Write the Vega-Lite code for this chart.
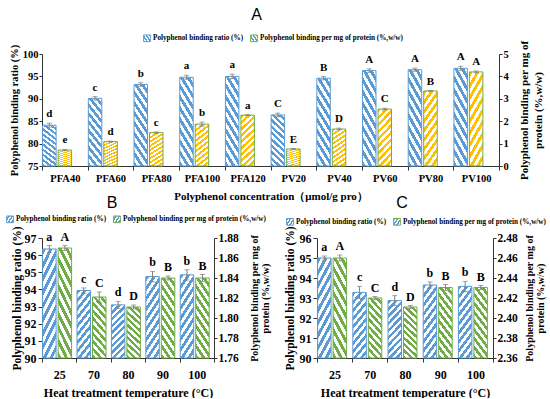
{
"$schema":"https://vega.github.io/schema/vega-lite/v6.json",
"background":"white",
"padding":{"left":6,"top":7,"right":0,"bottom":0},
"datasets":{
"A":[
{"cat":"PFA40","series":"ratio","value":84.1,"lo":83.65,"hi":84.55,"label":"d"},
{"cat":"PFA40","series":"permg","value":0.71,"lo":0.68,"hi":0.74,"label":"e"},
{"cat":"PFA60","series":"ratio","value":90.1,"lo":89.7,"hi":90.5,"label":"c"},
{"cat":"PFA60","series":"permg","value":1.09,"lo":1.07,"hi":1.11,"label":"d"},
{"cat":"PFA80","series":"ratio","value":93.2,"lo":92.8,"hi":93.6,"label":"b"},
{"cat":"PFA80","series":"permg","value":1.49,"lo":1.46,"hi":1.52,"label":"c"},
{"cat":"PFA100","series":"ratio","value":94.8,"lo":94.35,"hi":95.25,"label":"a"},
{"cat":"PFA100","series":"permg","value":1.87,"lo":1.78,"hi":1.96,"label":"b"},
{"cat":"PFA120","series":"ratio","value":95.0,"lo":94.5,"hi":95.5,"label":"a"},
{"cat":"PFA120","series":"permg","value":2.27,"lo":2.25,"hi":2.29,"label":"a"},
{"cat":"PV20","series":"ratio","value":86.4,"lo":86.0,"hi":86.8,"label":"C"},
{"cat":"PV20","series":"permg","value":0.76,"lo":0.74,"hi":0.78,"label":"E"},
{"cat":"PV40","series":"ratio","value":94.6,"lo":94.25,"hi":94.95,"label":"B"},
{"cat":"PV40","series":"permg","value":1.65,"lo":1.61,"hi":1.69,"label":"D"},
{"cat":"PV60","series":"ratio","value":96.3,"lo":95.9,"hi":96.7,"label":"A"},
{"cat":"PV60","series":"permg","value":2.54,"lo":2.5,"hi":2.58,"label":"C"},
{"cat":"PV80","series":"ratio","value":96.5,"lo":96.15,"hi":96.85,"label":"A"},
{"cat":"PV80","series":"permg","value":3.35,"lo":3.33,"hi":3.37,"label":"B"},
{"cat":"PV100","series":"ratio","value":96.8,"lo":96.35,"hi":97.25,"label":"A"},
{"cat":"PV100","series":"permg","value":4.2,"lo":4.16,"hi":4.24,"label":"A"}
],
"B":[
{"cat":"25","series":"ratio","value":96.36,"lo":96.16,"hi":96.56,"label":"a"},
{"cat":"25","series":"permg","value":1.870,"lo":1.8675,"hi":1.8725,"label":"A"},
{"cat":"70","series":"ratio","value":93.94,"lo":93.79,"hi":94.09,"label":"c"},
{"cat":"70","series":"permg","value":1.821,"lo":1.816,"hi":1.826,"label":"C"},
{"cat":"80","series":"ratio","value":93.1,"lo":92.9,"hi":93.3,"label":"d"},
{"cat":"80","series":"permg","value":1.811,"lo":1.809,"hi":1.813,"label":"D"},
{"cat":"90","series":"ratio","value":94.75,"lo":94.45,"hi":95.05,"label":"b"},
{"cat":"90","series":"permg","value":1.840,"lo":1.838,"hi":1.842,"label":"B"},
{"cat":"100","series":"ratio","value":94.85,"lo":94.55,"hi":95.15,"label":"b"},
{"cat":"100","series":"permg","value":1.840,"lo":1.8365,"hi":1.8435,"label":"B"}
],
"C":[
{"cat":"25","series":"ratio","value":95.0,"lo":94.9,"hi":95.1,"label":"a"},
{"cat":"25","series":"permg","value":2.46,"lo":2.457,"hi":2.463,"label":"A"},
{"cat":"70","series":"ratio","value":93.28,"lo":92.98,"hi":93.58,"label":"c"},
{"cat":"70","series":"permg","value":2.42,"lo":2.4185,"hi":2.4215,"label":"C"},
{"cat":"80","series":"ratio","value":92.87,"lo":92.62,"hi":93.12,"label":"d"},
{"cat":"80","series":"permg","value":2.411,"lo":2.4095,"hi":2.4125,"label":"D"},
{"cat":"90","series":"ratio","value":93.65,"lo":93.5,"hi":93.8,"label":"b"},
{"cat":"90","series":"permg","value":2.4305,"lo":2.4275,"hi":2.4335,"label":"B"},
{"cat":"100","series":"ratio","value":93.58,"lo":93.33,"hi":93.83,"label":"b"},
{"cat":"100","series":"permg","value":2.4305,"lo":2.4285,"hi":2.4325,"label":"B"}
]
},
"bounds":"flush",
"spacing":72,
"resolve":{"scale":{"stroke":"independent"},"legend":{"stroke":"independent"}},
"vconcat":[
{
"width":457,"height":112,
"data":{"name":"A"},
"title":{"text":"A","anchor":"middle","frame":"group","offset":11,"dx":-14},
"encoding":{
"x":{"field":"cat","type":"nominal","sort":null,"scale":{"paddingInner":0,"paddingOuter":0},"axis":{"title":"Polyphenol concentration（μmol/g pro）","labelAngle":0,"tickBand":"extent","labelFontSize":10.5,"titleFontSize":11,"labelPadding":3,"titlePadding":7}},
"xOffset":{"field":"series","type":"nominal","scale":{"domain":["ratio","permg","blank"],"paddingInner":0.13,"paddingOuter":0.04}}
},
"layer":[
{"transform":[{"filter":"datum.series==='ratio'"}],
"encoding":{"y":{"field":"value","type":"quantitative","scale":{"domain":[75,100],"nice":false,"zero":false},"axis":{"title":"Polyphenol binding ratio (%)","values":[75,80,85,90,95,100],"labelFontSize":10.5,"titleFontSize":10.5,"tickSize":3,"labelPadding":1,"titlePadding":3}}},
"layer":[
{"mark":{"type":"bar","strokeWidth":1,"fill":{"gradient":"linear","x1":0,"y1":1,"x2":0.294,"y2":-0.176,"stops":[{"offset":0,"color":"#5B9BD5"},{"offset":0.05,"color":"#5B9BD5"},{"offset":0.05,"color":"#ffffff"},{"offset":0.1,"color":"#ffffff"},{"offset":0.1,"color":"#5B9BD5"},{"offset":0.15,"color":"#5B9BD5"},{"offset":0.15,"color":"#ffffff"},{"offset":0.2,"color":"#ffffff"},{"offset":0.2,"color":"#5B9BD5"},{"offset":0.25,"color":"#5B9BD5"},{"offset":0.25,"color":"#ffffff"},{"offset":0.3,"color":"#ffffff"},{"offset":0.3,"color":"#5B9BD5"},{"offset":0.35,"color":"#5B9BD5"},{"offset":0.35,"color":"#ffffff"},{"offset":0.4,"color":"#ffffff"},{"offset":0.4,"color":"#5B9BD5"},{"offset":0.45,"color":"#5B9BD5"},{"offset":0.45,"color":"#ffffff"},{"offset":0.5,"color":"#ffffff"},{"offset":0.5,"color":"#5B9BD5"},{"offset":0.55,"color":"#5B9BD5"},{"offset":0.55,"color":"#ffffff"},{"offset":0.6,"color":"#ffffff"},{"offset":0.6,"color":"#5B9BD5"},{"offset":0.65,"color":"#5B9BD5"},{"offset":0.65,"color":"#ffffff"},{"offset":0.7,"color":"#ffffff"},{"offset":0.7,"color":"#5B9BD5"},{"offset":0.75,"color":"#5B9BD5"},{"offset":0.75,"color":"#ffffff"},{"offset":0.8,"color":"#ffffff"},{"offset":0.8,"color":"#5B9BD5"},{"offset":0.85,"color":"#5B9BD5"},{"offset":0.85,"color":"#ffffff"},{"offset":0.9,"color":"#ffffff"},{"offset":0.9,"color":"#5B9BD5"},{"offset":0.95,"color":"#5B9BD5"},{"offset":0.95,"color":"#ffffff"},{"offset":1,"color":"#ffffff"}]}},
"encoding":{
"y2":{"datum":75},
"stroke":{"field":"series","type":"nominal","scale":{"domain":["ratio","permg"],"range":["#5B9BD5","#70AD47"]},"legend":{"title":null,"orient":"none","legendX":101,"legendY":-20,"direction":"horizontal","labelExpr":"datum.value==='ratio' ? 'Polyphenol binding ratio (%)' : 'Polyphenol binding per mg of protein (%,w/w)'","encode":{"symbols":{"update":{"fill":{"signal":"datum.value==='ratio' ? '#9DC3E6' : '#FFD966'"}}}}}}
}},
{"mark":{"type":"rule","color":"#7f7f7f"},"encoding":{"y":{"field":"lo","type":"quantitative"},"y2":{"field":"hi"}}},
{"mark":{"type":"tick","color":"#7f7f7f","size":5,"thickness":1},"encoding":{"y":{"field":"lo","type":"quantitative"}}},
{"mark":{"type":"tick","color":"#7f7f7f","size":5,"thickness":1},"encoding":{"y":{"field":"hi","type":"quantitative"}}},
{"mark":{"type":"text","font":"Liberation Serif","fontWeight":"bold","fontSize":11,"baseline":"alphabetic","dy":-6},"encoding":{"y":{"field":"hi","type":"quantitative"},"text":{"field":"label"}}}
]},
{"transform":[{"filter":"datum.series==='permg'"}],
"encoding":{"y":{"field":"value","type":"quantitative","scale":{"domain":[0,5],"nice":false},"axis":{"orient":"right","title":["Polyphenol binding per mg of","protein (%,w/w)"],"titleAngle":270,"titleLineHeight":14,"values":[0,1,2,3,4,5],"labelFontSize":10.5,"titleFontSize":11,"tickSize":3,"labelPadding":1,"titlePadding":7}}},
"layer":[
{"mark":{"type":"bar","strokeWidth":1,"fill":{"gradient":"linear","x1":0,"y1":0,"x2":0.294,"y2":1.176,"stops":[{"offset":0,"color":"#FFC000"},{"offset":0.05,"color":"#FFC000"},{"offset":0.05,"color":"#ffffff"},{"offset":0.1,"color":"#ffffff"},{"offset":0.1,"color":"#FFC000"},{"offset":0.15,"color":"#FFC000"},{"offset":0.15,"color":"#ffffff"},{"offset":0.2,"color":"#ffffff"},{"offset":0.2,"color":"#FFC000"},{"offset":0.25,"color":"#FFC000"},{"offset":0.25,"color":"#ffffff"},{"offset":0.3,"color":"#ffffff"},{"offset":0.3,"color":"#FFC000"},{"offset":0.35,"color":"#FFC000"},{"offset":0.35,"color":"#ffffff"},{"offset":0.4,"color":"#ffffff"},{"offset":0.4,"color":"#FFC000"},{"offset":0.45,"color":"#FFC000"},{"offset":0.45,"color":"#ffffff"},{"offset":0.5,"color":"#ffffff"},{"offset":0.5,"color":"#FFC000"},{"offset":0.55,"color":"#FFC000"},{"offset":0.55,"color":"#ffffff"},{"offset":0.6,"color":"#ffffff"},{"offset":0.6,"color":"#FFC000"},{"offset":0.65,"color":"#FFC000"},{"offset":0.65,"color":"#ffffff"},{"offset":0.7,"color":"#ffffff"},{"offset":0.7,"color":"#FFC000"},{"offset":0.75,"color":"#FFC000"},{"offset":0.75,"color":"#ffffff"},{"offset":0.8,"color":"#ffffff"},{"offset":0.8,"color":"#FFC000"},{"offset":0.85,"color":"#FFC000"},{"offset":0.85,"color":"#ffffff"},{"offset":0.9,"color":"#ffffff"},{"offset":0.9,"color":"#FFC000"},{"offset":0.95,"color":"#FFC000"},{"offset":0.95,"color":"#ffffff"},{"offset":1,"color":"#ffffff"}]}},
"encoding":{"y2":{"datum":0},"stroke":{"field":"series","type":"nominal"}}},
{"mark":{"type":"rule","color":"#7f7f7f"},"encoding":{"y":{"field":"lo","type":"quantitative"},"y2":{"field":"hi"}}},
{"mark":{"type":"tick","color":"#7f7f7f","size":5,"thickness":1},"encoding":{"y":{"field":"lo","type":"quantitative"}}},
{"mark":{"type":"tick","color":"#7f7f7f","size":5,"thickness":1},"encoding":{"y":{"field":"hi","type":"quantitative"}}},
{"mark":{"type":"text","font":"Liberation Serif","fontWeight":"bold","fontSize":11,"baseline":"alphabetic","dy":-6},"encoding":{"y":{"field":"hi","type":"quantitative"},"text":{"field":"label"}}}
]}
],
"resolve":{"scale":{"y":"independent"}}
},
{
"hconcat":[
{
"width":172,"height":120,
"data":{"name":"B"},
"title":{"text":"B","anchor":"middle","frame":"group","offset":4,"dx":-16},
"encoding":{
"x":{"field":"cat","type":"nominal","sort":null,"scale":{"paddingInner":0,"paddingOuter":0},"axis":{"title":"Heat treatment temperature (°C)","labelAngle":0,"tickBand":"extent","labelFontSize":12,"titleFontSize":12,"labelPadding":7,"titlePadding":7}},
"xOffset":{"field":"series","type":"nominal","scale":{"domain":["ratio","permg"],"paddingInner":0.11,"paddingOuter":0.28}}
},
"layer":[
{"transform":[{"filter":"datum.series==='ratio'"}],
"encoding":{"y":{"field":"value","type":"quantitative","scale":{"domain":[90,97],"nice":false,"zero":false},"axis":{"title":"Polyphenol binding ratio (%)","values":[90,91,92,93,94,95,96,97],"labelFontSize":12,"titleFontSize":11.5,"tickSize":4,"labelPadding":2,"titlePadding":2}}},
"layer":[
{"mark":{"type":"bar","strokeWidth":1,"fill":{"gradient":"linear","x1":0,"y1":0,"x2":0.294,"y2":1.176,"stops":[{"offset":0,"color":"#5B9BD5"},{"offset":0.05,"color":"#5B9BD5"},{"offset":0.05,"color":"#ffffff"},{"offset":0.1,"color":"#ffffff"},{"offset":0.1,"color":"#5B9BD5"},{"offset":0.15,"color":"#5B9BD5"},{"offset":0.15,"color":"#ffffff"},{"offset":0.2,"color":"#ffffff"},{"offset":0.2,"color":"#5B9BD5"},{"offset":0.25,"color":"#5B9BD5"},{"offset":0.25,"color":"#ffffff"},{"offset":0.3,"color":"#ffffff"},{"offset":0.3,"color":"#5B9BD5"},{"offset":0.35,"color":"#5B9BD5"},{"offset":0.35,"color":"#ffffff"},{"offset":0.4,"color":"#ffffff"},{"offset":0.4,"color":"#5B9BD5"},{"offset":0.45,"color":"#5B9BD5"},{"offset":0.45,"color":"#ffffff"},{"offset":0.5,"color":"#ffffff"},{"offset":0.5,"color":"#5B9BD5"},{"offset":0.55,"color":"#5B9BD5"},{"offset":0.55,"color":"#ffffff"},{"offset":0.6,"color":"#ffffff"},{"offset":0.6,"color":"#5B9BD5"},{"offset":0.65,"color":"#5B9BD5"},{"offset":0.65,"color":"#ffffff"},{"offset":0.7,"color":"#ffffff"},{"offset":0.7,"color":"#5B9BD5"},{"offset":0.75,"color":"#5B9BD5"},{"offset":0.75,"color":"#ffffff"},{"offset":0.8,"color":"#ffffff"},{"offset":0.8,"color":"#5B9BD5"},{"offset":0.85,"color":"#5B9BD5"},{"offset":0.85,"color":"#ffffff"},{"offset":0.9,"color":"#ffffff"},{"offset":0.9,"color":"#5B9BD5"},{"offset":0.95,"color":"#5B9BD5"},{"offset":0.95,"color":"#ffffff"},{"offset":1,"color":"#ffffff"}]}},
"encoding":{
"y2":{"datum":90},
"stroke":{"field":"series","type":"nominal","scale":{"domain":["ratio","permg"],"range":["#5B9BD5","#70AD47"]},"legend":{"title":null,"orient":"none","legendX":-36,"legendY":-23,"direction":"horizontal","labelExpr":"datum.value==='ratio' ? 'Polyphenol binding ratio (%)' : 'Polyphenol binding per mg of protein (%,w/w)'","encode":{"symbols":{"update":{"fill":{"signal":"datum.value==='ratio' ? '#9DC3E6' : '#A9D18E'"}}}}}}
}},
{"mark":{"type":"rule","color":"#7f7f7f"},"encoding":{"y":{"field":"lo","type":"quantitative"},"y2":{"field":"hi"}}},
{"mark":{"type":"tick","color":"#7f7f7f","size":5,"thickness":1},"encoding":{"y":{"field":"lo","type":"quantitative"}}},
{"mark":{"type":"tick","color":"#7f7f7f","size":5,"thickness":1},"encoding":{"y":{"field":"hi","type":"quantitative"}}},
{"mark":{"type":"text","font":"Liberation Serif","fontWeight":"bold","fontSize":12,"baseline":"alphabetic","dy":-5},"encoding":{"y":{"field":"hi","type":"quantitative"},"text":{"field":"label"}}}
]},
{"transform":[{"filter":"datum.series==='permg'"}],
"encoding":{"y":{"field":"value","type":"quantitative","scale":{"domain":[1.76,1.88],"nice":false,"zero":false},"axis":{"orient":"right","title":["Polyphenol binding per mg of","protein (%,w/w)"],"titleAngle":270,"titleLineHeight":11,"values":[1.76,1.78,1.8,1.82,1.84,1.86,1.88],"format":".2f","labelFontSize":11.5,"titleFontSize":10,"tickSize":3,"labelPadding":1,"titlePadding":10}}},
"layer":[
{"mark":{"type":"bar","strokeWidth":1,"fill":{"gradient":"linear","x1":0,"y1":1,"x2":0.294,"y2":-0.176,"stops":[{"offset":0,"color":"#70AD47"},{"offset":0.05,"color":"#70AD47"},{"offset":0.05,"color":"#ffffff"},{"offset":0.1,"color":"#ffffff"},{"offset":0.1,"color":"#70AD47"},{"offset":0.15,"color":"#70AD47"},{"offset":0.15,"color":"#ffffff"},{"offset":0.2,"color":"#ffffff"},{"offset":0.2,"color":"#70AD47"},{"offset":0.25,"color":"#70AD47"},{"offset":0.25,"color":"#ffffff"},{"offset":0.3,"color":"#ffffff"},{"offset":0.3,"color":"#70AD47"},{"offset":0.35,"color":"#70AD47"},{"offset":0.35,"color":"#ffffff"},{"offset":0.4,"color":"#ffffff"},{"offset":0.4,"color":"#70AD47"},{"offset":0.45,"color":"#70AD47"},{"offset":0.45,"color":"#ffffff"},{"offset":0.5,"color":"#ffffff"},{"offset":0.5,"color":"#70AD47"},{"offset":0.55,"color":"#70AD47"},{"offset":0.55,"color":"#ffffff"},{"offset":0.6,"color":"#ffffff"},{"offset":0.6,"color":"#70AD47"},{"offset":0.65,"color":"#70AD47"},{"offset":0.65,"color":"#ffffff"},{"offset":0.7,"color":"#ffffff"},{"offset":0.7,"color":"#70AD47"},{"offset":0.75,"color":"#70AD47"},{"offset":0.75,"color":"#ffffff"},{"offset":0.8,"color":"#ffffff"},{"offset":0.8,"color":"#70AD47"},{"offset":0.85,"color":"#70AD47"},{"offset":0.85,"color":"#ffffff"},{"offset":0.9,"color":"#ffffff"},{"offset":0.9,"color":"#70AD47"},{"offset":0.95,"color":"#70AD47"},{"offset":0.95,"color":"#ffffff"},{"offset":1,"color":"#ffffff"}]}},
"encoding":{"y2":{"datum":1.76},"stroke":{"field":"series","type":"nominal"}}},
{"mark":{"type":"rule","color":"#7f7f7f"},"encoding":{"y":{"field":"lo","type":"quantitative"},"y2":{"field":"hi"}}},
{"mark":{"type":"tick","color":"#7f7f7f","size":5,"thickness":1},"encoding":{"y":{"field":"lo","type":"quantitative"}}},
{"mark":{"type":"tick","color":"#7f7f7f","size":5,"thickness":1},"encoding":{"y":{"field":"hi","type":"quantitative"}}},
{"mark":{"type":"text","font":"Liberation Serif","fontWeight":"bold","fontSize":12,"baseline":"alphabetic","dy":-5},"encoding":{"y":{"field":"hi","type":"quantitative"},"text":{"field":"label"}}}
]}
],
"resolve":{"scale":{"y":"independent"}}
},
{
"width":176,"height":120,
"data":{"name":"C"},
"title":{"text":"C","anchor":"middle","frame":"group","offset":6.5,"dx":-3},
"encoding":{
"x":{"field":"cat","type":"nominal","sort":null,"scale":{"paddingInner":0,"paddingOuter":0},"axis":{"title":"Heat treatment temperature (°C)","labelAngle":0,"tickBand":"extent","labelFontSize":12,"titleFontSize":12,"labelPadding":7,"titlePadding":7}},
"xOffset":{"field":"series","type":"nominal","scale":{"domain":["ratio","permg"],"paddingInner":0.11,"paddingOuter":0.28}}
},
"layer":[
{"transform":[{"filter":"datum.series==='ratio'"}],
"encoding":{"y":{"field":"value","type":"quantitative","scale":{"domain":[90,96],"nice":false,"zero":false},"axis":{"title":"Polyphenol binding ratio (%)","values":[90,91,92,93,94,95,96],"labelFontSize":12,"titleFontSize":11.5,"tickSize":4,"labelPadding":2,"titlePadding":4}}},
"layer":[
{"mark":{"type":"bar","strokeWidth":1,"fill":{"gradient":"linear","x1":0,"y1":0,"x2":0.294,"y2":1.176,"stops":[{"offset":0,"color":"#5B9BD5"},{"offset":0.05,"color":"#5B9BD5"},{"offset":0.05,"color":"#ffffff"},{"offset":0.1,"color":"#ffffff"},{"offset":0.1,"color":"#5B9BD5"},{"offset":0.15,"color":"#5B9BD5"},{"offset":0.15,"color":"#ffffff"},{"offset":0.2,"color":"#ffffff"},{"offset":0.2,"color":"#5B9BD5"},{"offset":0.25,"color":"#5B9BD5"},{"offset":0.25,"color":"#ffffff"},{"offset":0.3,"color":"#ffffff"},{"offset":0.3,"color":"#5B9BD5"},{"offset":0.35,"color":"#5B9BD5"},{"offset":0.35,"color":"#ffffff"},{"offset":0.4,"color":"#ffffff"},{"offset":0.4,"color":"#5B9BD5"},{"offset":0.45,"color":"#5B9BD5"},{"offset":0.45,"color":"#ffffff"},{"offset":0.5,"color":"#ffffff"},{"offset":0.5,"color":"#5B9BD5"},{"offset":0.55,"color":"#5B9BD5"},{"offset":0.55,"color":"#ffffff"},{"offset":0.6,"color":"#ffffff"},{"offset":0.6,"color":"#5B9BD5"},{"offset":0.65,"color":"#5B9BD5"},{"offset":0.65,"color":"#ffffff"},{"offset":0.7,"color":"#ffffff"},{"offset":0.7,"color":"#5B9BD5"},{"offset":0.75,"color":"#5B9BD5"},{"offset":0.75,"color":"#ffffff"},{"offset":0.8,"color":"#ffffff"},{"offset":0.8,"color":"#5B9BD5"},{"offset":0.85,"color":"#5B9BD5"},{"offset":0.85,"color":"#ffffff"},{"offset":0.9,"color":"#ffffff"},{"offset":0.9,"color":"#5B9BD5"},{"offset":0.95,"color":"#5B9BD5"},{"offset":0.95,"color":"#ffffff"},{"offset":1,"color":"#ffffff"}]}},
"encoding":{
"y2":{"datum":90},
"stroke":{"field":"series","type":"nominal","scale":{"domain":["ratio","permg"],"range":["#5B9BD5","#70AD47"]},"legend":{"title":null,"orient":"none","legendX":-31,"legendY":-20.5,"direction":"horizontal","labelExpr":"datum.value==='ratio' ? 'Polyphenol binding ratio (%)' : 'Polyphenol binding per mg of protein (%,w/w)'","encode":{"symbols":{"update":{"fill":{"signal":"datum.value==='ratio' ? '#9DC3E6' : '#A9D18E'"}}}}}}
}},
{"mark":{"type":"rule","color":"#7f7f7f"},"encoding":{"y":{"field":"lo","type":"quantitative"},"y2":{"field":"hi"}}},
{"mark":{"type":"tick","color":"#7f7f7f","size":5,"thickness":1},"encoding":{"y":{"field":"lo","type":"quantitative"}}},
{"mark":{"type":"tick","color":"#7f7f7f","size":5,"thickness":1},"encoding":{"y":{"field":"hi","type":"quantitative"}}},
{"mark":{"type":"text","font":"Liberation Serif","fontWeight":"bold","fontSize":12,"baseline":"alphabetic","dy":-5},"encoding":{"y":{"field":"hi","type":"quantitative"},"text":{"field":"label"}}}
]},
{"transform":[{"filter":"datum.series==='permg'"}],
"encoding":{"y":{"field":"value","type":"quantitative","scale":{"domain":[2.36,2.48],"nice":false,"zero":false},"axis":{"orient":"right","title":["Polyphenol binding per mg of","protein (%,w/w)"],"titleAngle":270,"titleLineHeight":11,"values":[2.36,2.38,2.4,2.42,2.44,2.46,2.48],"labelFontSize":11.5,"titleFontSize":10,"tickSize":3,"labelPadding":1,"titlePadding":6}}},
"layer":[
{"mark":{"type":"bar","strokeWidth":1,"fill":{"gradient":"linear","x1":0,"y1":1,"x2":0.294,"y2":-0.176,"stops":[{"offset":0,"color":"#70AD47"},{"offset":0.05,"color":"#70AD47"},{"offset":0.05,"color":"#ffffff"},{"offset":0.1,"color":"#ffffff"},{"offset":0.1,"color":"#70AD47"},{"offset":0.15,"color":"#70AD47"},{"offset":0.15,"color":"#ffffff"},{"offset":0.2,"color":"#ffffff"},{"offset":0.2,"color":"#70AD47"},{"offset":0.25,"color":"#70AD47"},{"offset":0.25,"color":"#ffffff"},{"offset":0.3,"color":"#ffffff"},{"offset":0.3,"color":"#70AD47"},{"offset":0.35,"color":"#70AD47"},{"offset":0.35,"color":"#ffffff"},{"offset":0.4,"color":"#ffffff"},{"offset":0.4,"color":"#70AD47"},{"offset":0.45,"color":"#70AD47"},{"offset":0.45,"color":"#ffffff"},{"offset":0.5,"color":"#ffffff"},{"offset":0.5,"color":"#70AD47"},{"offset":0.55,"color":"#70AD47"},{"offset":0.55,"color":"#ffffff"},{"offset":0.6,"color":"#ffffff"},{"offset":0.6,"color":"#70AD47"},{"offset":0.65,"color":"#70AD47"},{"offset":0.65,"color":"#ffffff"},{"offset":0.7,"color":"#ffffff"},{"offset":0.7,"color":"#70AD47"},{"offset":0.75,"color":"#70AD47"},{"offset":0.75,"color":"#ffffff"},{"offset":0.8,"color":"#ffffff"},{"offset":0.8,"color":"#70AD47"},{"offset":0.85,"color":"#70AD47"},{"offset":0.85,"color":"#ffffff"},{"offset":0.9,"color":"#ffffff"},{"offset":0.9,"color":"#70AD47"},{"offset":0.95,"color":"#70AD47"},{"offset":0.95,"color":"#ffffff"},{"offset":1,"color":"#ffffff"}]}},
"encoding":{"y2":{"datum":2.36},"stroke":{"field":"series","type":"nominal"}}},
{"mark":{"type":"rule","color":"#7f7f7f"},"encoding":{"y":{"field":"lo","type":"quantitative"},"y2":{"field":"hi"}}},
{"mark":{"type":"tick","color":"#7f7f7f","size":5,"thickness":1},"encoding":{"y":{"field":"lo","type":"quantitative"}}},
{"mark":{"type":"tick","color":"#7f7f7f","size":5,"thickness":1},"encoding":{"y":{"field":"hi","type":"quantitative"}}},
{"mark":{"type":"text","font":"Liberation Serif","fontWeight":"bold","fontSize":12,"baseline":"alphabetic","dy":-5},"encoding":{"y":{"field":"hi","type":"quantitative"},"text":{"field":"label"}}}
]}
],
"resolve":{"scale":{"y":"independent"}}
}
],
"spacing":103,
"bounds":"flush",
"resolve":{"scale":{"stroke":"independent"},"legend":{"stroke":"independent"}}
}
],
"config":{
"view":{"stroke":null},
"font":"Liberation Serif",
"axis":{"labelFont":"Liberation Serif","labelFontWeight":"bold","labelColor":"#000","titleFont":"Liberation Serif","titleFontWeight":"bold","titleColor":"#000","domainColor":"#333","tickColor":"#333","grid":false,"tickSize":4},
"legend":{"labelFont":"Liberation Serif","labelFontWeight":"bold","labelFontSize":7.2,"labelColor":"#000","symbolType":"square","symbolSize":45,"symbolStrokeWidth":1,"padding":0,"columnPadding":4,"labelOffset":2},
"title":{"font":"Liberation Sans","fontWeight":"normal","fontSize":16,"color":"#000"}
}
}
